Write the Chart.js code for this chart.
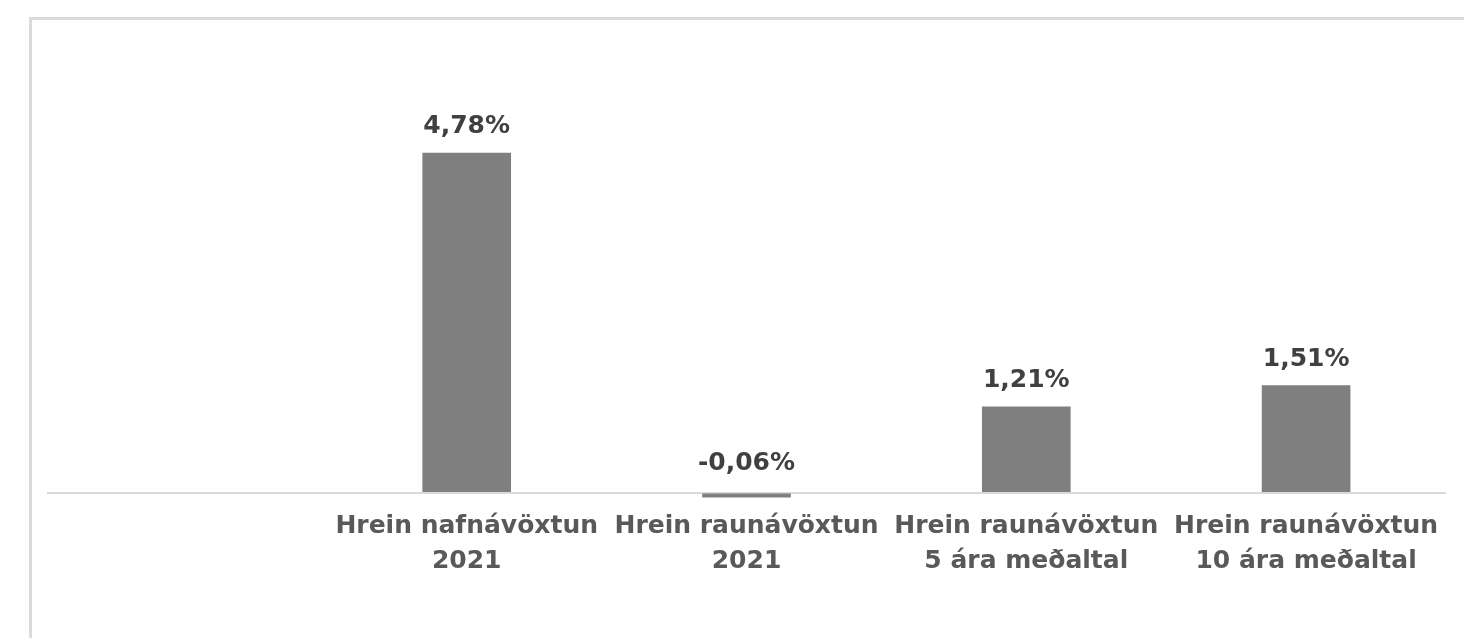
<!DOCTYPE html>
<html>
<head>
<meta charset="utf-8">
<script src="https://cdn.jsdelivr.net/npm/chart.js@4.4.1/dist/chart.umd.min.js"></script>
<style>
  html, body { margin: 0; padding: 0; background: #fff; }
  #wrap { position: relative; width: 1464px; height: 638px; overflow: hidden; }
  #frame { position: absolute; left: 29px; top: 17px; width: 1500px; height: 700px;
           border-left: 3px solid #dadada; border-top: 3px solid #dadada; }
  #c { position: absolute; left: 0; top: 0; }
</style>
</head>
<body>
<div id="wrap">
  <div id="frame"></div>
  <canvas id="c" width="1464" height="638"></canvas>
</div>
<script>
// categories (first one is an empty slot, as in the original)
const categories = [
  ['', ''],
  ['Hrein nafnávöxtun', '2021'],
  ['Hrein raunávöxtun', '2021'],
  ['Hrein raunávöxtun', '5 ára meðaltal'],
  ['Hrein raunávöxtun', '10 ára meðaltal']
];
const values = [null, 4.78, -0.06, 1.21, 1.51];

const FONT = '"DejaVu Sans", sans-serif';

// value labels above each bar
const valueLabels = {
  id: 'valueLabels',
  afterDatasetsDraw(chart) {
    const ctx = chart.ctx;
    const meta = chart.getDatasetMeta(0);
    const zeroY = chart.scales.y.getPixelForValue(0);
    ctx.save();
    ctx.font = 'bold 25px ' + FONT;
    ctx.fillStyle = '#404040';
    ctx.textAlign = 'center';
    ctx.textBaseline = 'alphabetic';
    meta.data.forEach((bar, i) => {
      const v = values[i];
      if (v === null) return;
      const top = Math.min(bar.y, zeroY);
      const txt = v.toFixed(2).replace('.', ',') + '%';
      ctx.fillText(txt, bar.x, top - (v < 0 ? 23 : 20));
    });
    ctx.restore();
  }
};

new Chart(document.getElementById('c'), {
  type: 'bar',
  data: {
    labels: categories,
    datasets: [{
      data: values,
      backgroundColor: '#7f7f7f',
      borderWidth: 0,
      barThickness: 88
    }]
  },
  options: {
    responsive: false,
    animation: false,
    layout: { padding: { left: 47, right: 18, top: 102, bottom: 20 } },
    plugins: { legend: { display: false }, tooltip: { enabled: false } },
    scales: {
      x: {
        grid: { display: false },
        border: { display: false },
        ticks: {
          color: '#595959',
          font: { family: FONT, size: 25, weight: 'bold', lineHeight: 1.4 },
          padding: -6,
          maxRotation: 0,
          autoSkip: false
        },
        afterFit: s => { s.height = 111; }
      },
      y: {
        min: -0.2,
        max: 5.5,
        ticks: { display: false },
        border: { display: false },
        grid: {
          color: c => c.tick && c.tick.value === 0 ? '#d9d9d9' : 'transparent',
          lineWidth: 2,
          drawTicks: false
        },
        afterBuildTicks: s => { s.ticks = [{ value: 0 }]; },
        afterFit: s => { s.width = 0; }
      }
    }
  },
  plugins: [valueLabels]
});
</script>
</body>
</html>
